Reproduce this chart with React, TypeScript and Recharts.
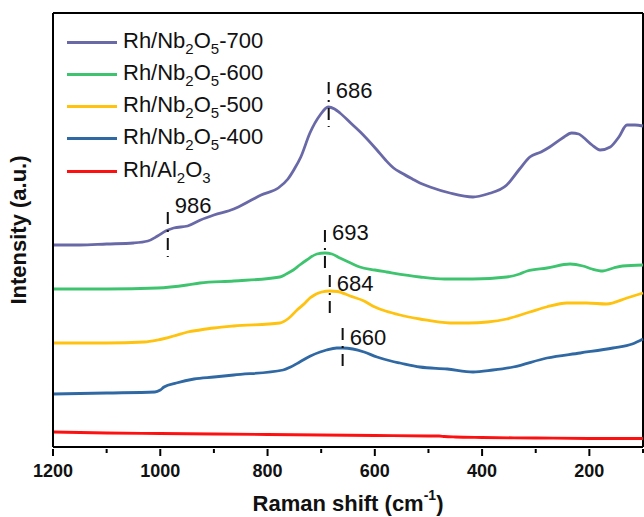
import React from 'react';
import { Legend, Line, LineChart, ReferenceDot, ReferenceLine, XAxis, YAxis } from 'recharts';

// Raman shift (cm-1) and intensity (a.u., offset per sample)
const shift700 = [1200, 1150, 1100, 1050, 1023, 1005, 990, 975, 949, 925, 900, 863, 830, 812, 780, 762, 750, 738, 721, 702, 687, 675, 665, 645, 627, 596, 580, 565, 550, 530, 516, 497, 460, 417, 390, 354, 330, 311, 290, 274, 250, 233, 220, 212, 195, 180, 161, 145, 130, 115, 100];
const int700 = [202, 202, 203, 204, 206, 211, 216, 219, 221, 227, 232, 238, 247, 252, 259, 268, 278, 290, 314, 332, 340, 338, 334, 324, 315, 297, 287, 279, 274, 268, 264, 260, 254, 250, 253, 262, 278, 290, 295, 300, 309, 314, 313, 310, 302, 297, 300, 310, 322, 322, 321];

const shift600 = [1200, 1100, 1005, 950, 926, 863, 777, 765, 752, 740, 727, 708, 693, 680, 665, 645, 628, 600, 578, 516, 470, 417, 354, 330, 316, 279, 236, 212, 195, 175, 155, 138, 100];
const int600 = [158, 158, 159, 162, 164, 166, 170, 173, 177, 182, 187, 193, 194, 193, 189, 184, 180, 177, 175, 170, 168, 168, 170, 173, 176, 179, 183, 181, 178, 176, 179, 181, 182];

const shift500 = [1200, 1100, 1030, 1005, 975, 949, 926, 900, 863, 777, 760, 745, 730, 721, 699, 684, 670, 646, 620, 604, 580, 553, 516, 460, 425, 390, 354, 311, 280, 242, 205, 168, 130, 100];
const int500 = [104, 104, 105, 107, 111, 115, 117, 119, 121, 124, 129, 137, 144, 149, 155, 156, 155.5, 151, 146, 141, 136, 132, 128, 124, 124, 125, 128, 135, 140, 144, 144, 143, 149, 154];

const shift400 = [1200, 1100, 1010, 1000, 993, 970, 937, 900, 863, 771, 757, 740, 720, 702, 690, 671, 660, 641, 620, 596, 570, 553, 516, 465, 417, 380, 342, 279, 217, 156, 120, 100];
const int400 = [53, 54, 55, 57, 60, 64, 68, 70, 72, 77, 80, 85, 91, 95, 97, 99, 99, 98, 95, 90, 86, 84, 80, 78, 75, 77, 80, 89, 94, 99, 103, 108];

const shiftAl = [1200, 1100, 1000, 900, 800, 700, 600, 500, 480, 470, 450, 400, 300, 200, 100];
const intAl = [15, 14, 13.5, 13, 12.5, 12, 11.5, 11, 11, 10.5, 10, 9.5, 9, 8.5, 8.5];

const seriesNames = ['Rh/Nb2O5-700', 'Rh/Nb2O5-600', 'Rh/Nb2O5-500', 'Rh/Nb2O5-400', 'Rh/Al2O3'];
const seriesColors = ['#6a69a8', '#3ec46f', '#ffc20e', '#2f68a3', '#ff1010'];

// peak markers
const peakShift = [986, 686, 693, 684, 660];
const peakText = ['986', '686', '693', '684', '660'];
const peakTop = [235, 365, 217, 172, 119];
const peakBottom = [190, 320, 174, 129, 75];
const peakLabelAt = [241.5, 357, 215, 164, 110];

const xTicks = [1200, 1100, 1000, 900, 800, 700, 600, 500, 400, 300, 200, 100];

const FONT = "'Liberation Sans', Arial, sans-serif";

const toPoints = (xs: number[], ys: number[]) => xs.map((x, i) => ({ x, y: ys[i] }));

const seriesData = [
  toPoints(shift700, int700),
  toPoints(shift600, int600),
  toPoints(shift500, int500),
  toPoints(shift400, int400),
  toPoints(shiftAl, intAl),
];

// "Rh/Nb2O5-700" -> Rh/Nb<sub>2</sub>O<sub>5</sub>-700
const formula = (name: string) =>
  name.split(/(?<=[A-Za-z])(\d)/).map((part, i) =>
    i % 2 === 1 ? (
      <span key={i} style={{ fontSize: 15, verticalAlign: '-6px' }}>{part}</span>
    ) : (
      <span key={i}>{part}</span>
    )
  );

const ShiftTick = (props: any) => {
  const { x, y, payload } = props;
  const major = payload.value % 200 === 0;
  return (
    <g>
      <line x1={x} y1={y} x2={x} y2={y + (major ? 7 : 4)} stroke="#000" strokeWidth={2} />
      {major && (
        <text x={x} y={y + 22} textAnchor="middle" dominantBaseline="central" fontFamily={FONT} fontSize={18} fontWeight="bold" fill="#111">
          {payload.value}
        </text>
      )}
    </g>
  );
};

const renderLegend = (props: any) => {
  const items = [...(props.payload ?? [])].sort(
    (a: any, b: any) => seriesNames.indexOf(a.value) - seriesNames.indexOf(b.value)
  );
  return (
    <div style={{ fontFamily: FONT, fontSize: 22, color: '#111' }}>
      {items.map((item: any) => (
        <div key={item.value} style={{ display: 'flex', alignItems: 'center', height: 32.25 }}>
          <span style={{ display: 'inline-block', width: 50, height: 3, background: item.color, marginRight: 6 }} />
          <span style={{ whiteSpace: 'nowrap' }}>{formula(item.value)}</span>
        </div>
      ))}
    </div>
  );
};

const App: React.FC = () => (
  <div style={{ position: 'absolute', left: 0, top: 0, background: '#fff' }}>
    <LineChart width={644} height={517} margin={{ top: 13, right: 1, bottom: 0, left: 0 }}>
      <XAxis
        dataKey="x"
        type="number"
        domain={[100, 1200]}
        reversed
        ticks={xTicks}
        interval={0}
        tickSize={0}
        tickLine={false}
        tick={<ShiftTick />}
        axisLine={{ stroke: '#000', strokeWidth: 2 }}
        height={70}
        label={{
          content: (p: any) => {
            const vb = p.viewBox;
            return (
              <text x={vb.x + vb.width / 2} y={vb.y + 56} textAnchor="middle" dominantBaseline="central" fontFamily={FONT} fontSize={22} fontWeight="bold" fill="#111">
                Raman shift (cm<tspan dy={-8} fontSize={14}>-1</tspan><tspan dy={8}>)</tspan>
              </text>
            );
          },
        }}
      />
      <YAxis
        type="number"
        domain={[0, 434]}
        tick={false}
        tickLine={false}
        axisLine={{ stroke: '#000', strokeWidth: 2 }}
        width={53}
        label={{
          content: (p: any) => {
            const vb = p.viewBox;
            const cx = vb.x + 18;
            const cy = vb.y + vb.height / 2;
            return (
              <text x={cx} y={cy} transform={`rotate(-90 ${cx} ${cy})`} textAnchor="middle" dominantBaseline="central" fontFamily={FONT} fontSize={22} fontWeight="bold" fill="#111">
                Intensity (a.u.)
              </text>
            );
          },
        }}
      />
      <ReferenceLine y={434} stroke="#000" strokeWidth={2} />
      <ReferenceLine x={100} stroke="#000" strokeWidth={2} />

      {seriesData.map((data, i) => (
        <Line
          key={seriesNames[i]}
          data={data}
          dataKey="y"
          name={seriesNames[i]}
          type="monotone"
          stroke={seriesColors[i]}
          strokeWidth={2.8}
          dot={false}
          activeDot={false}
          isAnimationActive={false}
        />
      ))}

      {peakShift.map((s, i) => (
        <ReferenceLine
          key={`pl-${i}`}
          segment={[{ x: s, y: peakTop[i] }, { x: s, y: peakBottom[i] }]}
          stroke="#111"
          strokeWidth={2}
          strokeDasharray="12 6 2 6"
        />
      ))}
      {peakShift.map((s, i) => (
        <ReferenceDot
          key={`pt-${i}`}
          x={s}
          y={peakLabelAt[i]}
          r={1}
          shape={(p: any) => (
            <text x={p.cx + 7} y={p.cy} dominantBaseline="central" fontFamily={FONT} fontSize={22} fill="#111">
              {peakText[i]}
            </text>
          )}
        />
      ))}

      <Legend
        layout="vertical"
        align="center"
        verticalAlign="middle"
        content={renderLegend}
        wrapperStyle={{ top: 26, left: 67, width: 'auto', height: 'auto' }}
      />
    </LineChart>
  </div>
);

export default App;
